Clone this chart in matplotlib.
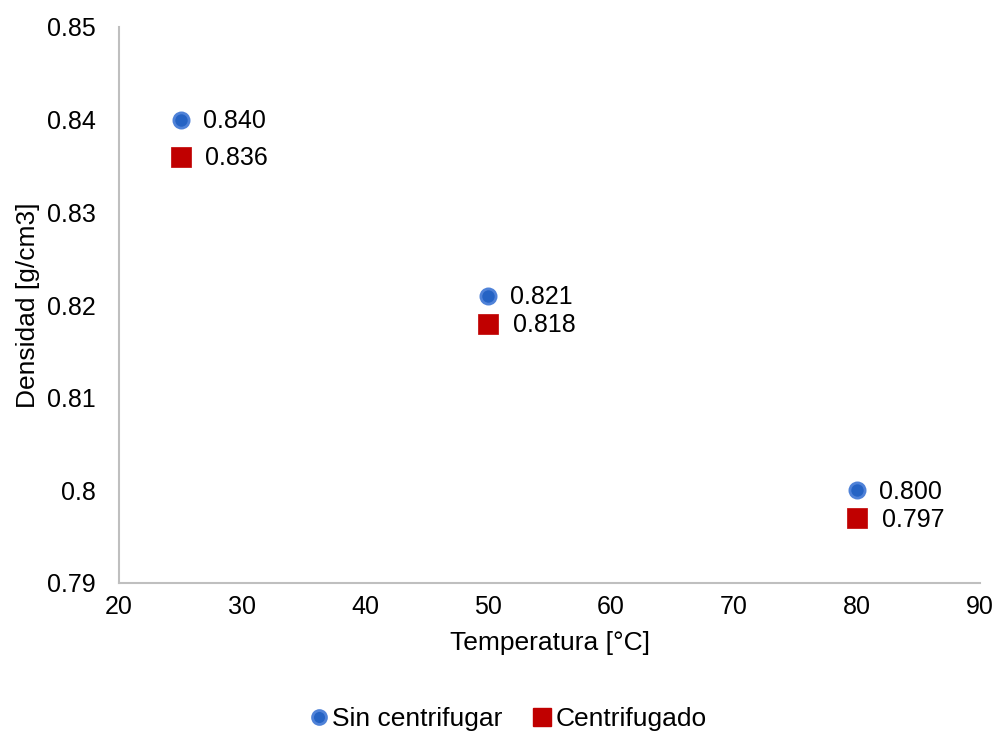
import matplotlib
matplotlib.use("Agg")
import matplotlib.pyplot as plt
from matplotlib.lines import Line2D

plt.rcParams['font.family'] = ['Liberation Sans', 'DejaVu Sans']

temperatura = [25, 50, 80]
sin_centrifugar = [0.840, 0.821, 0.800]
centrifugado = [0.836, 0.818, 0.797]
x_ticks = [20, 30, 40, 50, 60, 70, 80, 90]
y_ticks = [0.79, 0.80, 0.81, 0.82, 0.83, 0.84, 0.85]
y_tick_labels = ['0.79', '0.8', '0.81', '0.82', '0.83', '0.84', '0.85']

blue_face = '#2563C4'
blue_edge = '#4F82D8'
red = '#C00000'
fs = 18
fs_title = 19

fig = plt.figure(figsize=(9.99, 7.32), dpi=100)
ax = fig.add_axes([119/999, 1 - 583/732, (980 - 119)/999, (583 - 27)/732])

ax.scatter(temperatura, sin_centrifugar, s=120, marker='o', color=blue_face,
           edgecolors=blue_edge, linewidths=2.0, zorder=3)
ax.scatter(temperatura, centrifugado, s=190, marker='s', color=red,
           edgecolors=red, linewidths=0.5, zorder=3)

for t, v in zip(temperatura, sin_centrifugar):
    ax.annotate(f'{v:.3f}', (t, v), xytext=(16, -1), textcoords='offset points',
                va='center', ha='left', fontsize=fs, color='#000000')
for t, v in zip(temperatura, centrifugado):
    ax.annotate(f'{v:.3f}', (t, v), xytext=(18, -1), textcoords='offset points',
                va='center', ha='left', fontsize=fs, color='#000000')

ax.set_xlim(20, 90)
ax.set_ylim(0.79, 0.85)
ax.set_xticks(x_ticks)
ax.set_yticks(y_ticks)
ax.set_yticklabels(y_tick_labels)
ax.tick_params(axis='both', length=0, labelsize=fs, colors='#000000')
ax.tick_params(axis='x', pad=9)
ax.tick_params(axis='y', pad=17)

for side in ['top', 'right']:
    ax.spines[side].set_visible(False)
for side in ['left', 'bottom']:
    ax.spines[side].set_color('#BFBFBF')
    ax.spines[side].set_linewidth(1.5)

ax.set_xlabel('Temperatura [°C]', fontsize=fs_title, labelpad=8)
ax.set_ylabel('Densidad [g/cm3]', fontsize=fs_title, labelpad=5)

handles = [
    Line2D([], [], marker='o', linestyle='none', markersize=10,
           markerfacecolor=blue_face, markeredgecolor=blue_edge, markeredgewidth=2),
    Line2D([], [], marker='s', linestyle='none', markersize=13,
           markerfacecolor=red, markeredgecolor=red),
]
fig.legend(handles, ['Sin centrifugar', 'Centrifugado'], loc='center',
           bbox_to_anchor=(506/999, 1 - 719/732), ncol=2, frameon=False,
           fontsize=fs_title, handletextpad=0.0, columnspacing=1.0, handlelength=1.0,
           borderpad=0)

fig.savefig('out.png', dpi=100, facecolor='white')
